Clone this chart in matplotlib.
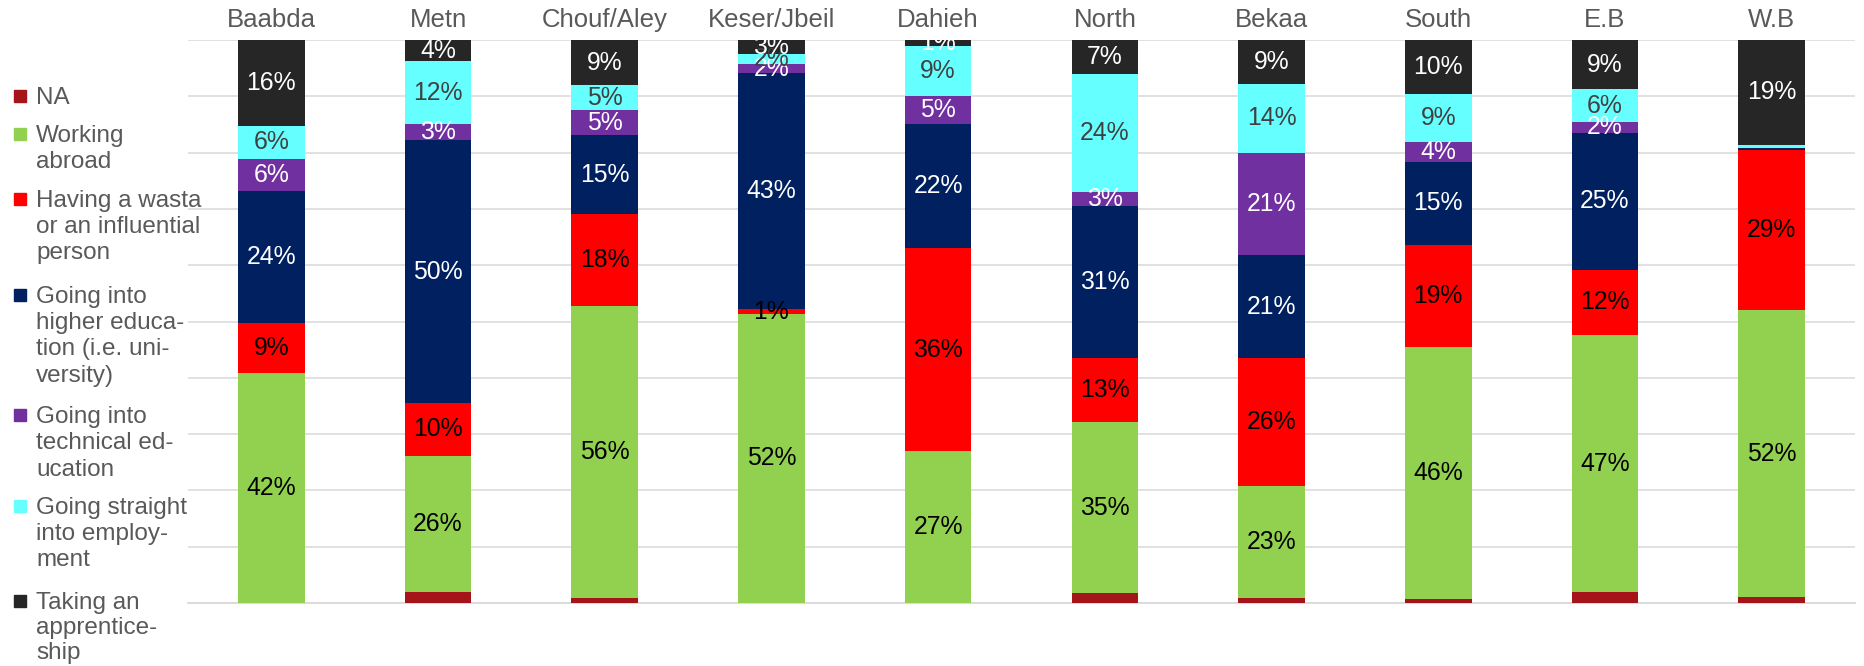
import matplotlib
matplotlib.use("Agg")
import matplotlib.pyplot as plt
import numpy as np
from matplotlib.patches import Rectangle

plt.rcParams['font.family'] = ['Liberation Sans', 'DejaVu Sans']

categories = ["Baabda", "Metn", "Chouf/Aley", "Keser/Jbeil", "Dahieh",
              "North", "Bekaa", "South", "E.B", "W.B"]

series_names = ["NA", "Working abroad", "Having a wasta or an influential person",
                "Going into higher education (i.e. university)",
                "Going into technical education", "Going straight into employment",
                "Taking an apprenticeship"]
legend_labels = ["NA", "Working\nabroad", "Having a wasta\nor an influential\nperson",
                 "Going into\nhigher educa-\ntion (i.e. uni-\nversity)",
                 "Going into\ntechnical ed-\nucation",
                 "Going straight\ninto employ-\nment",
                 "Taking an\napprentice-\nship"]

na_vals         = [0, 2, 0.9, 0, 0, 2, 1, 0.8, 2, 1]
abroad_vals     = [42, 26, 56.2, 52.3, 27, 35, 23, 46.1, 47, 52]
wasta_vals      = [9, 10, 17.6, 0.8, 36, 13, 26, 18.7, 12, 29]
higher_vals     = [24, 50, 15.2, 42.7, 22, 31, 21, 15.2, 25, 0.3]
technical_vals  = [6, 3, 4.8, 1.6, 5, 3, 21, 3.7, 2, 0]
straight_vals   = [6, 12, 4.8, 1.8, 9, 24, 14, 8.8, 6, 0.6]
apprentice_vals = [15.6, 4, 8.7, 2.6, 1, 7, 9, 9.8, 9, 19]

colors = ["#A51419", "#92D050", "#FF0000", "#002060", "#7030A0", "#66FFFF", "#262626"]
label_colors = [None, "#000000", "#000000", "#FFFFFF", "#FFFFFF", "#404040", "#FFFFFF"]

data = np.array([na_vals, abroad_vals, wasta_vals, higher_vals,
                 technical_vals, straight_vals, apprentice_vals], dtype=float)
totals = data.sum(axis=0)
pct = data / totals * 100.0

W, H = 1864, 666
fig = plt.figure(figsize=(W / 100, H / 100), dpi=100)
ax = fig.add_axes([188 / W, 1 - 603 / H, (1855 - 188) / W, (603 - 40) / H])

x = np.arange(len(categories))
bottom = np.zeros(len(categories))
for i, name in enumerate(series_names):
    bars = ax.bar(x, pct[i], bottom=bottom, width=0.4, color=colors[i],
                  label=name, zorder=3, linewidth=0)
    if label_colors[i] is not None:
        for j, b in enumerate(bars):
            v = data[i, j]
            if v >= 0.75:
                ax.text(b.get_x() + b.get_width() / 2, bottom[j] + pct[i, j] / 2,
                        f"{int(round(v))}%", ha="center", va="center",
                        fontsize=17.8, color=label_colors[i], zorder=4)
    bottom += pct[i]

ax.set_xlim(-0.5, len(categories) - 0.5)
ax.set_ylim(0, 100)
ax.set_yticks(np.arange(0, 101, 10))
ax.yaxis.grid(True, color="#D9D9D9", linewidth=1.1, zorder=0)
ax.tick_params(axis="y", left=False, labelleft=False)
ax.xaxis.tick_top()
ax.set_xticks(x)
ax.set_xticklabels(categories, fontsize=18.5, color="#595959")
ax.tick_params(axis="x", top=False, bottom=False, pad=2.4)
for s in ["left", "right", "top"]:
    ax.spines[s].set_visible(False)
ax.spines["bottom"].set_color("#D9D9D9")
ax.spines["bottom"].set_linewidth(1.3)

# manual legend (keys aligned to first line, as in reference)
legend_y_px = [96, 134, 199, 295, 415, 506, 601]
legend_spacing = [1.25, 1.25, 1.25, 1.25, 1.25, 1.25, 1.17]
for i, lab in enumerate(legend_labels):
    y_px = legend_y_px[i]
    fig.add_artist(Rectangle((14 / W, 1 - (y_px + 6) / H), 12 / W, 12 / H,
                             transform=fig.transFigure, color=colors[i]))
    fig.text(36 / W, 1 - (y_px - 9) / H, lab, ha="left", va="top",
             fontsize=17.5, color="#595959", linespacing=legend_spacing[i])

fig.savefig("out.png", dpi=100)
